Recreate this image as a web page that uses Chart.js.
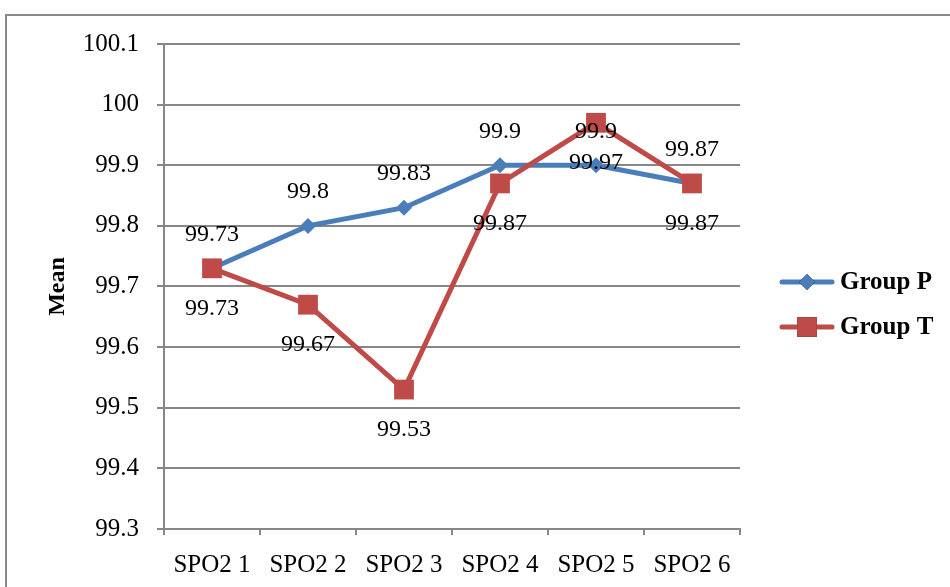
<!DOCTYPE html>
<html>
<head>
<meta charset="utf-8">
<script src="https://cdn.jsdelivr.net/npm/chart.js@4.4.1/dist/chart.umd.min.js"></script>
<style>
  html, body { margin: 0; padding: 0; background: #ffffff; }
  #wrap { position: relative; width: 950px; height: 587px; }
</style>
</head>
<body>
<div id="wrap"><canvas id="c" width="950" height="587"></canvas></div>
<script>
// SpO2 readings at six time points, mean per group
const categories = ['SPO2 1', 'SPO2 2', 'SPO2 3', 'SPO2 4', 'SPO2 5', 'SPO2 6'];
const groupP = [99.73, 99.8, 99.83, 99.9, 99.9, 99.87];
const groupT = [99.73, 99.67, 99.53, 99.87, 99.97, 99.87];
const seriesNames = ['Group P', 'Group T'];
const yTicks = [99.3, 99.4, 99.5, 99.6, 99.7, 99.8, 99.9, 100, 100.1];

const BLUE = '#4A7EBB';
const RED = '#BE4B48';
const GRID = '#878787';
const SERIF = '"Liberation Serif", "Times New Roman", serif';

// Frame around the whole chart object
const framePlugin = {
  id: 'frame',
  beforeDraw(chart) {
    const ctx = chart.ctx;
    ctx.save();
    ctx.fillStyle = '#ffffff';
    ctx.fillRect(0, 0, chart.width, chart.height);
    ctx.strokeStyle = '#8a8a8a';
    ctx.lineWidth = 2;
    ctx.strokeRect(6, 15, chart.width + 20, chart.height + 20);
    ctx.restore();
  }
};

// Value labels: first series above its points, second series below
const valueLabels = {
  id: 'valueLabels',
  afterDatasetsDraw(chart, args, opts) {
    const ctx = chart.ctx;
    ctx.save();
    ctx.font = opts.font;
    ctx.fillStyle = '#000';
    ctx.textAlign = 'center';
    ctx.textBaseline = 'middle';
    chart.data.datasets.forEach((ds, di) => {
      const meta = chart.getDatasetMeta(di);
      const shift = ds.labelSide === 'above' ? -opts.above : opts.below;
      meta.data.forEach((pt, i) => {
        ctx.fillText(String(ds.data[i]), pt.x, pt.y + shift);
      });
    });
    ctx.restore();
  }
};

// Legend on the right: line sample with marker, bold series name
const sideLegend = {
  id: 'sideLegend',
  afterDraw(chart, args, opts) {
    const ctx = chart.ctx;
    ctx.save();
    const legendOrder = [1, 0].map(o => chart.data.datasets.findIndex(d => d.order === o));
    legendOrder.forEach((di, k) => {
      const ds = chart.data.datasets[di];
      const y = opts.top + k * opts.gap;
      ctx.strokeStyle = ds.borderColor;
      ctx.lineWidth = ds.borderWidth;
      ctx.lineCap = 'round';
      ctx.beginPath();
      ctx.moveTo(opts.x0, y);
      ctx.lineTo(opts.x1, y);
      ctx.stroke();
      Chart.helpers.drawPoint(ctx, {
        pointStyle: ds.pointStyle,
        radius: ds.pointRadius,
        rotation: 0,
        borderWidth: 0
      }, (opts.x0 + opts.x1) / 2, y);
      ctx.fillStyle = ds.pointBackgroundColor;
      ctx.fill();
      ctx.fillStyle = '#000';
      ctx.font = opts.font;
      ctx.textAlign = 'left';
      ctx.textBaseline = 'middle';
      ctx.fillText(ds.label, opts.textX, y + 1);
    });
    ctx.restore();
  }
};

new Chart(document.getElementById('c'), {
  type: 'line',
  data: {
    labels: categories,
    datasets: [
      {
        label: seriesNames[0],
        data: groupP,
        order: 1,
        labelSide: 'above',
        borderColor: BLUE,
        backgroundColor: BLUE,
        pointBackgroundColor: BLUE,
        pointBorderColor: BLUE,
        borderWidth: 5,
        pointStyle: 'rectRot',
        pointRadius: 8,
        pointBorderWidth: 0,
        tension: 0,
        fill: false
      },
      {
        label: seriesNames[1],
        data: groupT,
        order: 0,
        labelSide: 'below',
        borderColor: RED,
        backgroundColor: RED,
        pointBackgroundColor: RED,
        pointBorderColor: RED,
        borderWidth: 5,
        pointStyle: 'rect',
        pointRadius: 14,
        pointBorderWidth: 0,
        tension: 0,
        fill: false
      }
    ]
  },
  options: {
    responsive: false,
    animation: false,
    events: [],
    layout: { padding: { left: 0, right: 210, top: 44, bottom: 0 } },
    plugins: {
      legend: { display: false },
      tooltip: { enabled: false },
      valueLabels: { font: '24px ' + SERIF, above: 34, below: 40 },
      sideLegend: { x0: 782, x1: 832, top: 282, gap: 45, textX: 840, font: 'bold 25px ' + SERIF }
    },
    scales: {
      x: {
        type: 'category',
        offset: true,
        afterFit(scale) { scale.height = 58; },
        grid: {
          offset: true,
          drawOnChartArea: false,
          drawTicks: true,
          tickLength: 6,
          color: GRID,
          lineWidth: 2
        },
        border: { display: true, color: GRID, width: 2 },
        ticks: {
          color: '#000',
          font: { family: SERIF, size: 25 },
          padding: 15,
          maxRotation: 0,
          autoSkip: false
        }
      },
      y: {
        min: yTicks[0],
        max: yTicks[yTicks.length - 1],
        afterFit(scale) { scale.width = 164; },
        afterBuildTicks(scale) { scale.ticks = yTicks.map(v => ({ value: v })); },
        grid: {
          color: GRID,
          lineWidth: 2,
          drawTicks: true,
          tickLength: 7
        },
        border: { display: true, color: GRID, width: 2 },
        ticks: {
          color: '#000',
          font: { family: SERIF, size: 25 },
          padding: 18,
          callback: (v) => String(Math.round(v * 10) / 10)
        },
        title: {
          display: true,
          text: 'Mean',
          color: '#000',
          font: { family: SERIF, size: 24, weight: 'bold' },
          padding: { top: 43, bottom: 0 }
        }
      }
    }
  },
  plugins: [framePlugin, valueLabels, sideLegend]
});
</script>
</body>
</html>
